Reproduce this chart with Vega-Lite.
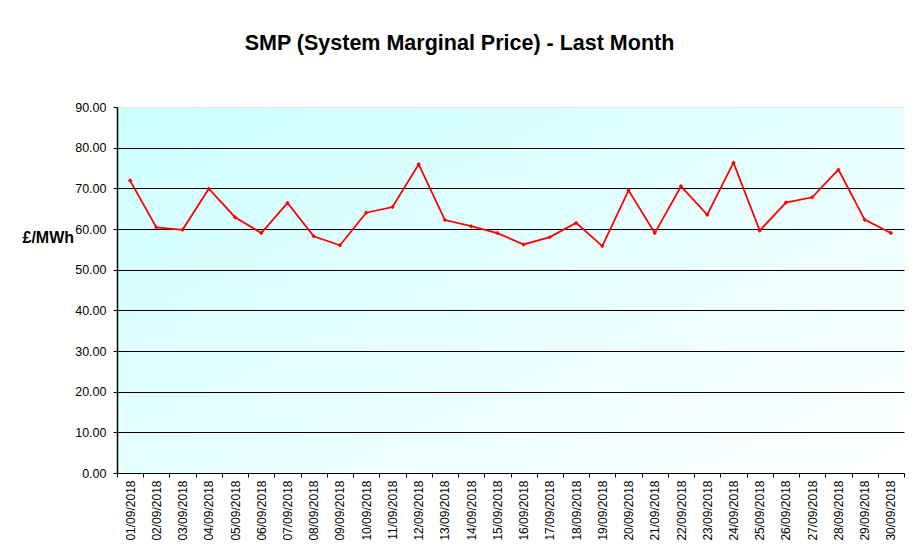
{
  "$schema": "https://vega.github.io/schema/vega-lite/v6.json",
  "width": 787,
  "height": 366,
  "autosize": {"type": "none"},
  "padding": {"left": 117, "top": 107, "right": 11, "bottom": 73},
  "background": "#ffffff",
  "config": {
    "font": "Liberation Sans",
    "view": {
      "stroke": null,
      "fill": {
        "gradient": "linear",
        "x1": 0, "y1": 0, "x2": 1, "y2": 1,
        "stops": [
          {"offset": 0, "color": "#ccffff"},
          {"offset": 1, "color": "#ffffff"}
        ]
      }
    }
  },
  "title": {
    "text": "SMP (System Marginal Price) - Last Month",
    "font": "Liberation Sans",
    "fontSize": 21.5,
    "fontWeight": "bold",
    "color": "#000000",
    "anchor": "middle",
    "frame": "group",
    "dx": -51,
    "offset": 47
  },
  "data": {
    "values": [
      {"date": "01/09/2018", "price": 71.9},
      {"date": "02/09/2018", "price": 60.4},
      {"date": "03/09/2018", "price": 59.8},
      {"date": "04/09/2018", "price": 69.9},
      {"date": "05/09/2018", "price": 62.9},
      {"date": "06/09/2018", "price": 59.0},
      {"date": "07/09/2018", "price": 66.4},
      {"date": "08/09/2018", "price": 58.2},
      {"date": "09/09/2018", "price": 56.0},
      {"date": "10/09/2018", "price": 64.0},
      {"date": "11/09/2018", "price": 65.4},
      {"date": "12/09/2018", "price": 75.9},
      {"date": "13/09/2018", "price": 62.2},
      {"date": "14/09/2018", "price": 60.7},
      {"date": "15/09/2018", "price": 59.0},
      {"date": "16/09/2018", "price": 56.2},
      {"date": "17/09/2018", "price": 58.0},
      {"date": "18/09/2018", "price": 61.5},
      {"date": "19/09/2018", "price": 55.8},
      {"date": "20/09/2018", "price": 69.5},
      {"date": "21/09/2018", "price": 59.0},
      {"date": "22/09/2018", "price": 70.5},
      {"date": "23/09/2018", "price": 63.5},
      {"date": "24/09/2018", "price": 76.3},
      {"date": "25/09/2018", "price": 59.6},
      {"date": "26/09/2018", "price": 66.5},
      {"date": "27/09/2018", "price": 67.8},
      {"date": "28/09/2018", "price": 74.6},
      {"date": "29/09/2018", "price": 62.3},
      {"date": "30/09/2018", "price": 59.0}
    ]
  },
  "mark": {
    "type": "line",
    "color": "#ff0000",
    "strokeWidth": 1.8,
    "point": {"filled": true, "shape": "diamond", "size": 20, "color": "#ff0000"}
  },
  "encoding": {
    "x": {
      "field": "date",
      "type": "ordinal",
      "sort": null,
      "bandPosition": 0.5,
      "scale": {"type": "band", "paddingInner": 0, "paddingOuter": 0},
      "axis": {
        "title": null,
        "labelAngle": -90,
        "labelFontSize": 12,
        "labelColor": "#000000",
        "labelPadding": 3,
        "tickBand": "extent",
        "tickSize": 4,
        "tickColor": "#000000",
        "domainColor": "#000000",
        "domainWidth": 1,
        "grid": false
      }
    },
    "y": {
      "field": "price",
      "type": "quantitative",
      "scale": {"domain": [0, 90], "nice": false},
      "axis": {
        "values": [0, 10, 20, 30, 40, 50, 60, 70, 80, 90],
        "format": ".2f",
        "title": "£/MWh",
        "titleAngle": 0,
        "titleFontSize": 16,
        "titleFontWeight": "bold",
        "titleColor": "#000000",
        "titleAlign": "left",
        "titleBaseline": "middle",
        "titleX": -95,
        "titleY": 130,
        "labelFontSize": 12.5,
        "labelColor": "#000000",
        "labelPadding": 7,
        "tickSize": 4,
        "tickColor": "#000000",
        "domainColor": "#000000",
        "domainWidth": 1.5,
        "grid": true,
        "gridColor": {"condition": {"test": "datum.value === 90", "value": "#e8e8e8"}, "value": "#000000"},
        "gridWidth": 1,
        "gridOpacity": 1
      }
    }
  }
}
